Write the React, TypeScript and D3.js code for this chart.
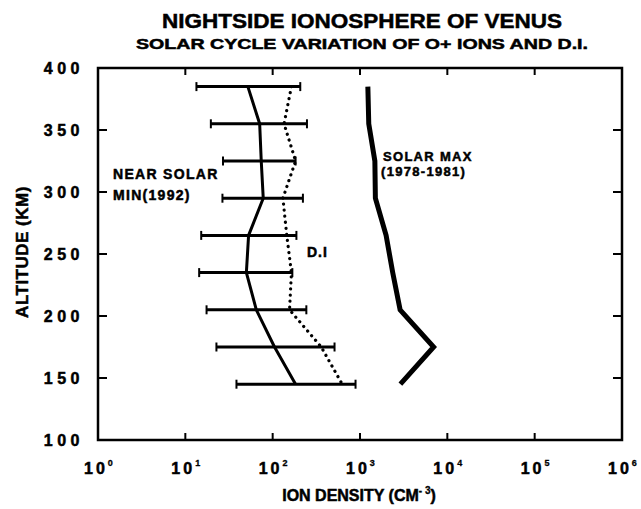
import React from "react";
import * as d3 from "d3";

// altitude levels (km) where the profiles were sampled
const altitudes = [385, 355, 325, 295, 265, 235, 205, 175, 145];
// O+ density near solar minimum (1992), cm^-3
const solarMinDensity = [52, 71, 74, 78, 53, 50, 65, 105, 183];
// lower / upper ends of the spread around the solar-min profile
const errLow = [13.4, 19.6, 27, 26.6, 15.2, 14.4, 17.5, 22.7, 38.5];
const errHigh = [207, 247, 183, 222, 187, 168, 243, 511, 889];
// D.I. profile (dotted)
const diDensity = [164, 135, 183, 131, 145, 164, 156, 360, 626];
// solar maximum (1978-1981) profile
const solarMaxDensity = [1230, 1260, 1480, 1500, 1990, 2370, 2880, 6970, 2900];

const yTicks = [100, 150, 200, 250, 300, 350, 400];
const xExponents = [0, 1, 2, 3, 4, 5, 6];

const W = 641;
const H = 509;
const margin = { top: 68, right: 19, bottom: 69, left: 98 };
const FONT = "'Liberation Sans', Arial, Helvetica, sans-serif";

const App = () => {
  const x = d3
    .scaleLog()
    .domain([1, 1e6])
    .range([margin.left, W - margin.right]);

  const y = d3
    .scaleLinear()
    .domain([100, 400])
    .range([H - margin.bottom, margin.top]);

  const line = d3
    .line<[number, number]>()
    .x((d) => x(d[0]))
    .y((d) => y(d[1]));

  const minPts = altitudes.map((a, i) => [solarMinDensity[i], a] as [number, number]);
  const diPts = altitudes.map((a, i) => [diDensity[i], a] as [number, number]);
  const maxPts = altitudes.map((a, i) => [solarMaxDensity[i], a] as [number, number]);

  const x0 = x.range()[0];
  const x1 = x.range()[1];
  const y0 = y.range()[0];
  const y1 = y.range()[1];
  const tickLen = 9;

  // heavier lettering, like the original typesetting
  const heavy = { stroke: "#000", strokeWidth: 0.5 };

  return (
    <svg
      width={W}
      height={H}
      style={{ position: "absolute", left: 0, top: 0, background: "#fff" }}
      fontFamily={FONT}
      fontWeight="bold"
    >
      {/* titles */}
      <text x={362} y={28} textAnchor="middle" fontSize={20} textLength={400} lengthAdjust="spacingAndGlyphs" {...heavy}>
        NIGHTSIDE IONOSPHERE OF VENUS
      </text>
      <text x={362} y={49} textAnchor="middle" fontSize={15} textLength={452} lengthAdjust="spacingAndGlyphs" {...heavy}>
        SOLAR CYCLE VARIATION OF O+ IONS AND D.I.
      </text>

      {/* frame */}
      <rect x={x0} y={y1} width={x1 - x0} height={y0 - y1} fill="none" stroke="#000" strokeWidth={2.5} />

      {/* y ticks, inward on both sides */}
      {yTicks.map((t) => (
        <g key={"y" + t}>
          {t > 100 && t < 400 && (
            <>
              <line x1={x0} x2={x0 + tickLen} y1={y(t)} y2={y(t)} stroke="#000" strokeWidth={2} />
              <line x1={x1} x2={x1 - tickLen} y1={y(t)} y2={y(t)} stroke="#000" strokeWidth={2} />
            </>
          )}
          <text x={84} y={y(t) + 6} textAnchor="end" fontSize={16} letterSpacing={4.5} {...heavy}>
            {t}
          </text>
        </g>
      ))}

      {/* x ticks, inward top and bottom */}
      {xExponents.map((e) => {
        const v = Math.pow(10, e);
        return (
          <g key={"x" + e}>
            {e > 0 && e < 6 && (
              <>
                <line x1={x(v)} x2={x(v)} y1={y0} y2={y0 - 7} stroke="#000" strokeWidth={2} />
                <line x1={x(v)} x2={x(v)} y1={y1} y2={y1 + 7} stroke="#000" strokeWidth={2} />
              </>
            )}
            <text x={x(v) - 14} y={474} fontSize={16} letterSpacing={3} {...heavy}>
              10
              <tspan fontSize={9} dy={-8} strokeWidth={0.3}>
                {e}
              </tspan>
            </text>
          </g>
        );
      })}

      {/* axis titles */}
      <text x={359} y={501} textAnchor="middle" fontSize={16} {...heavy}>
        ION DENSITY (CM
        <tspan fontSize={10} dy={-7} strokeWidth={0.3}>
          - 3
        </tspan>
        <tspan dy={7}>)</tspan>
      </text>
      <text
        transform={`translate(28,${252}) rotate(-90)`}
        textAnchor="middle"
        fontSize={17}
        letterSpacing={0.5}
        {...heavy}
      >
        ALTITUDE (KM)
      </text>

      {/* error bars */}
      {altitudes.map((a, i) => (
        <g key={"e" + a} stroke="#000">
          <line x1={x(errLow[i])} x2={x(errHigh[i])} y1={y(a)} y2={y(a)} strokeWidth={3} />
          <line x1={x(errLow[i])} x2={x(errLow[i])} y1={y(a) - 4.5} y2={y(a) + 4.5} strokeWidth={2} />
          <line x1={x(errHigh[i])} x2={x(errHigh[i])} y1={y(a) - 4.5} y2={y(a) + 4.5} strokeWidth={2} />
        </g>
      ))}

      {/* profiles */}
      <path d={line(minPts) || ""} fill="none" stroke="#000" strokeWidth={3} strokeLinejoin="round" />
      <path
        d={line(diPts) || ""}
        fill="none"
        stroke="#000"
        strokeWidth={3.2}
        strokeDasharray="0.1 6"
        strokeLinecap="round"
      />
      <path d={line(maxPts) || ""} fill="none" stroke="#000" strokeWidth={5} strokeLinejoin="miter" />

      {/* curve labels */}
      <text x={113} y={179} fontSize={14} letterSpacing={1.3} {...heavy}>
        NEAR SOLAR
      </text>
      <text x={113} y={200} fontSize={14} letterSpacing={1.3} {...heavy}>
        MIN(1992)
      </text>
      <text x={307} y={257} fontSize={14} letterSpacing={1} {...heavy}>
        D.I
      </text>
      <text x={383} y={161} fontSize={13} letterSpacing={1.3} {...heavy}>
        SOLAR MAX
      </text>
      <text x={381} y={176} fontSize={13} letterSpacing={1.3} {...heavy}>
        (1978-1981)
      </text>
    </svg>
  );
};

export default App;
